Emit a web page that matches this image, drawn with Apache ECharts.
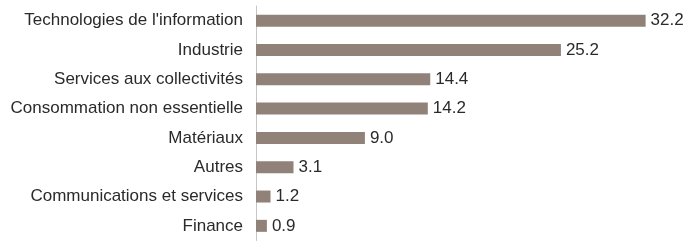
<!DOCTYPE html>
<html>
<head>
<meta charset="utf-8">
<script src="https://cdn.jsdelivr.net/npm/echarts@6/dist/echarts.min.js"></script>
<style>
  html, body { margin: 0; padding: 0; background: #fff; }
  #main { width: 699px; height: 241px; }
</style>
</head>
<body>
<div id="main"></div>
<script>
const categories = [
  "Technologies de l'information",
  'Industrie',
  'Services aux collectivités',
  'Consommation non essentielle',
  'Matériaux',
  'Autres',
  'Communications et services',
  'Finance'
]
const values = [32.2, 25.2, 14.4, 14.2, 9.0, 3.1, 1.2, 0.9]

const font = '"Liberation Sans Narrow", "Arial Narrow", "Liberation Sans", sans-serif'

const chart = echarts.init(document.getElementById('main'))
chart.setOption({
  animation: false,
  grid: { left: 256, top: 6, width: 435.6, height: 234.5, containLabel: false },
  xAxis: {
    type: 'value',
    min: 0,
    max: 36,
    show: false
  },
  yAxis: {
    type: 'category',
    inverse: true,
    data: categories,
    axisLine: { show: true, lineStyle: { color: '#c6c6c6', width: 1 } },
    axisTick: { show: false },
    axisLabel: { color: '#2a2a2a', fontSize: 17, fontFamily: font, margin: 13 }
  },
  series: [
    {
      type: 'bar',
      data: values,
      barWidth: 12,
      itemStyle: { color: '#918279' },
      label: {
        show: true,
        position: 'right',
        distance: 5,
        color: '#2a2a2a',
        fontSize: 17,
        fontFamily: font,
        formatter: p => p.value.toFixed(1)
      }
    }
  ]
})
</script>
</body>
</html>
